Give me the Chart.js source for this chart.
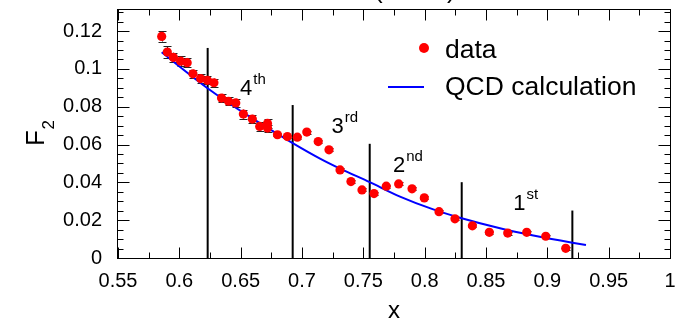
<!DOCTYPE html>
<html><head><meta charset="utf-8">
<script src="https://cdn.jsdelivr.net/npm/chart.js@4.4.0/dist/chart.umd.min.js"></script>
<style>html,body{margin:0;padding:0;background:#fff;overflow:hidden}#wrap{width:685px;height:320px;position:relative}</style>
</head><body><div id="wrap"><canvas id="c" width="685" height="320"></canvas></div>
<script>
// ---- data ----
const dataX = [0.5856,0.5902,0.5952,0.6011,0.6064,0.6111,0.6173,0.6229,0.6282,0.6344,0.6401,0.6460,0.6522,0.6595,0.6655,0.6719,0.6719,0.6800,0.6881,0.6962,0.7039,0.7132,0.7220,0.7310,0.7399,0.7489,0.7587,0.7687,0.7788,0.7897,0.7997,0.8117,0.8247,0.8389,0.8527,0.8677,0.8832,0.8987,0.9150];
const dataY = [0.1172,0.1089,0.1061,0.1041,0.1033,0.0974,0.0949,0.0940,0.0927,0.0846,0.0829,0.0820,0.0761,0.0735,0.0696,0.0712,0.0687,0.0652,0.0642,0.0639,0.0666,0.0616,0.0572,0.0466,0.0404,0.0360,0.0341,0.0380,0.0392,0.0366,0.0318,0.0245,0.0207,0.0170,0.0136,0.0132,0.0136,0.0115,0.0051];
const dataErr = [0.0027,0.0030,0.0025,0.0025,0.0025,0.0022,0.0022,0.0022,0.0022,0.0022,0.0022,0.0022,0.0024,0.0022,0.0022,0.0023,0.0018,0.0008,0.0008,0.0008,0.0008,0.0008,0.0008,0.0008,0.0008,0.0008,0.0008,0.0008,0.0008,0.0008,0.0008,0.0008,0.0008,0.0008,0.0008,0.0008,0.0008,0.0008,0.0008];
const qcdX = [0.5856,0.6230,0.6576,0.6924,0.7147,0.7310,0.7552,0.7799,0.8070,0.8302,0.8614,0.8886,0.9204,0.9315];
const qcdY = [0.1088,0.0898,0.0746,0.0608,0.0526,0.0473,0.0401,0.0325,0.0257,0.0210,0.0157,0.0119,0.0081,0.0069];
const markerX = [0.6231,0.6924,0.7552,0.8302,0.9204];
const markerTop = [0.1111,0.0809,0.0604,0.0401,0.0251];
const orderMain = ['4','3','2','1'];
const orderSup = ['th','rd','nd','st'];
const seriesNames = ['data','QCD calculation'];
const xTickValues = [0.55,0.6,0.65,0.7,0.75,0.8,0.85,0.9,0.95,1];
const xTickLabels = ['0.55','0.6','0.65','0.7','0.75','0.8','0.85','0.9','0.95','1'];
const yTickValues = [0,0.02,0.04,0.06,0.08,0.1,0.12];
const yTickLabels = ['0','0.02','0.04','0.06','0.08','0.1','0.12'];
const xTitle = 'x';
const yTitleMain = 'F';
const yTitleSub = '2';

// ---- layout (not data) ----
const FONT = "'Liberation Sans', Arial, Helvetica, sans-serif";
const orderAnchorX = [0.6495,0.7240,0.7742,0.8722];
const orderAnchorY = [0.0864,0.0662,0.0453,0.0254];

const RED = '#ff0000', BLUE = '#0000ff';

const datasets = [
  {label: seriesNames[0], data: dataX.map((x,i)=>({x:x,y:dataY[i]})), backgroundColor:RED, borderColor:RED,
   pointRadius:4.6, pointBorderWidth:0, pointHoverRadius:4.6, showLine:false, order:0},
  {label: seriesNames[1], data: qcdX.map((x,i)=>({x:x,y:qcdY[i]})), borderColor:BLUE, backgroundColor:BLUE,
   borderWidth:2, pointRadius:0, showLine:true, cubicInterpolationMode:'monotone', order:1}
];
markerX.forEach((mx,i)=>{
  datasets.push({label:'', data:[{x:mx,y:0},{x:mx,y:markerTop[i]}], borderColor:'#000', borderWidth:2,
    pointRadius:0, showLine:true, order:2});
});

const errPlugin = {
  id:'err',
  beforeDatasetsDraw(chart){
    const c = chart.ctx, xs = chart.scales.x, ys = chart.scales.y;
    c.save(); c.strokeStyle = '#222'; c.lineWidth = 1;
    dataX.forEach((x,i)=>{
      const e = dataErr[i]; if(!e) return;
      const px = Math.round(xs.getPixelForValue(x))+0.5;
      const y1 = ys.getPixelForValue(dataY[i]+e), y2 = ys.getPixelForValue(dataY[i]-e);
      c.beginPath(); c.moveTo(px,y1); c.lineTo(px,y2);
      c.moveTo(px-4,Math.round(y1)+0.5); c.lineTo(px+4,Math.round(y1)+0.5);
      c.moveTo(px-4,Math.round(y2)+0.5); c.lineTo(px+4,Math.round(y2)+0.5);
      c.stroke();
    });
    c.restore();
  }
};

const framePlugin = {
  id:'frame',
  afterDraw(chart){
    const c = chart.ctx, a = chart.chartArea, xs = chart.scales.x, ys = chart.scales.y;
    const L = a.left-0.5, R = a.right+0.5, T = a.top+0.5, B = a.bottom+0.5;
    c.save();
    c.strokeStyle = '#000'; c.lineWidth = 1;
    c.strokeRect(L, T, R-L, B-T);
    c.beginPath();
    xTickValues.forEach((v,i)=>{
      const p = Math.round(xs.getPixelForValue(v))+0.5;
      c.moveTo(p,B); c.lineTo(p,B-11); c.moveTo(p,T); c.lineTo(p,T+11);
      if(i<xTickValues.length-1){
        const m = Math.round(xs.getPixelForValue((v+xTickValues[i+1])/2))+0.5;
        c.moveTo(m,B); c.lineTo(m,B-6); c.moveTo(m,T); c.lineTo(m,T+6);
      }
    });
    const yMax = ys.max;
    for(let k=0;k*0.005<=yMax+1e-9;k++){
      const v = k*0.005;
      const p = Math.round(ys.getPixelForValue(v))+0.5;
      const len = (k%4===0)?12:6;
      c.moveTo(L,p); c.lineTo(L+len,p); c.moveTo(R,p); c.lineTo(R-len,p);
    }
    c.stroke();

    c.fillStyle = '#000'; c.textBaseline = 'alphabetic'; c.textAlign = 'left';
    orderMain.forEach((t,i)=>{
      const px = xs.getPixelForValue(orderAnchorX[i]), py = ys.getPixelForValue(orderAnchorY[i]);
      c.font = '22px '+FONT; c.fillText(t, px, py);
      const w = c.measureText(t).width;
      c.font = '15px '+FONT; c.fillText(orderSup[i], px+w+1, py-11);
    });

    const ds0 = chart.data.datasets[0], ds1 = chart.data.datasets[1];
    c.fillStyle = ds0.backgroundColor;
    c.beginPath(); c.arc(424,48,5,0,Math.PI*2); c.fill();
    c.strokeStyle = ds1.borderColor; c.lineWidth = 2;
    c.beginPath(); c.moveTo(388,87); c.lineTo(424,87); c.stroke();
    c.fillStyle = '#000'; c.font = '26.5px '+FONT;
    c.fillText(ds0.label, 445, 58);
    c.fillText(ds1.label, 445, 95);

    c.font = '24px '+FONT; c.textAlign = 'center';
    c.fillText(xTitle, 394, 318);

    c.save(); c.translate(43.5,146); c.rotate(-Math.PI/2); c.textAlign='left';
    c.font = '26px '+FONT; c.fillText(yTitleMain, 0, 0);
    const fw = c.measureText(yTitleMain).width;
    c.font = '17px '+FONT; c.fillText(yTitleSub, fw+0.5, 10);
    c.restore();

    c.font = '26px '+FONT; c.textAlign='left';
    c.fillText('(', 374, -2.5);
    c.fillText(')', 447, -2.5);
    c.restore();
  }
};

new Chart(document.getElementById('c'), {
  type:'scatter',
  data:{datasets:datasets},
  options:{
    responsive:false, animation:false, devicePixelRatio:1,
    layout:{padding:{left:0,right:15,top:9,bottom:0}},
    plugins:{legend:{display:false}, tooltip:{enabled:false}},
    elements:{line:{tension:0.4}},
    scales:{
      x:{type:'linear', min:0.55, max:1,
        afterBuildTicks:s=>{s.ticks = xTickValues.map(v=>({value:v}));},
        afterFit:s=>{s.height=62; s.paddingLeft=0; s.paddingRight=0;},
        grid:{display:false, drawTicks:false}, border:{display:false},
        ticks:{font:{family:FONT,size:20}, color:'#000', padding:11, maxRotation:0, minRotation:0, autoSkip:false,
          callback:(v,i)=>xTickLabels[i]}},
      y:{type:'linear', min:0, max:0.1317,
        afterBuildTicks:s=>{s.ticks = yTickValues.map(v=>({value:v}));},
        afterFit:s=>{s.width=118; s.paddingTop=0; s.paddingBottom=0;},
        grid:{display:false, drawTicks:false}, border:{display:false},
        ticks:{font:{family:FONT,size:20}, color:'#000', padding:16, autoSkip:false,
          callback:(v,i)=>yTickLabels[i]}}
    }
  },
  plugins:[errPlugin, framePlugin]
});
</script></body></html>
